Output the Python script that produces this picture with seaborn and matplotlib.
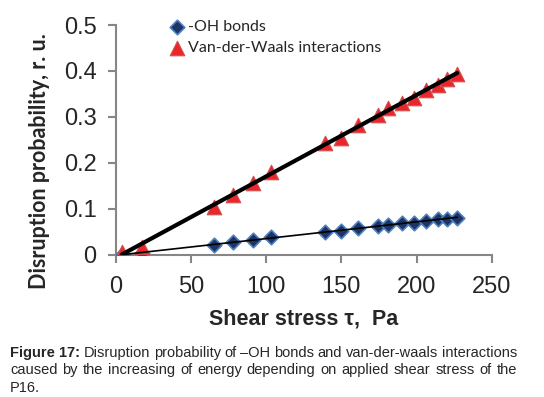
import numpy as np
import pandas as pd
import matplotlib.pyplot as plt
import seaborn as sns

# shear stress values (Pa)
stress = [4, 17.5, 65, 78, 91, 103, 139, 150, 161, 174, 181, 190, 198, 206, 214, 220, 227]
# -OH bonds disruption probability
oh_bonds = [0.0, 0.005, 0.022, 0.027, 0.033, 0.038, 0.050, 0.053, 0.058, 0.063, 0.065,
            0.069, 0.070, 0.074, 0.077, 0.079, 0.081]
# Van-der-Waals interactions disruption probability
vdw = [0.007, 0.017, 0.105, 0.130, 0.156, 0.181, 0.243, 0.254, 0.283, 0.304, 0.320,
       0.330, 0.341, 0.359, 0.370, 0.383, 0.393]

x_ticks = [0, 50, 100, 150, 200, 250]
y_ticks = [0, 0.1, 0.2, 0.3, 0.4, 0.5]
y_tick_labels = ['0', '0.1', '0.2', '0.3', '0.4', '0.5']

caption_lines = [
    [('Figure 17:', 'bold'), ('Disruption', 'normal'), ('probability', 'normal'), ('of', 'normal'),
     ('\u2013OH', 'normal'), ('bonds', 'normal'), ('and', 'normal'), ('van-der-waals', 'normal'),
     ('interactions', 'normal')],
    [(w, 'normal') for w in 'caused by the increasing of energy depending on applied shear stress of the'.split()],
    [('P16.', 'normal')],
]

df = pd.DataFrame({'stress': stress, 'oh': oh_bonds, 'vdw': vdw})

sns.set_style('white')
plt.rcParams['font.family'] = ['Liberation Sans', 'DejaVu Sans']

fig = plt.figure(figsize=(5.44, 3.97), dpi=100)
ax = fig.add_axes([0.213, 0.358, 0.691, 0.579])

sns.scatterplot(data=df, x='stress', y='oh', marker='D', s=55, color='#1c3566',
                edgecolor='#4f81bd', linewidth=1.2, label='-OH bonds', ax=ax, zorder=3)
sns.scatterplot(data=df, x='stress', y='vdw', marker='^', s=110, color='#e8262b',
                edgecolor='#d0504d', linewidth=0.8, label='Van-der-Waals interactions', ax=ax, zorder=3)

# linear trend lines
sns.regplot(data=df, x='stress', y='oh', scatter=False, ci=None, ax=ax,
            line_kws={'color': 'black', 'lw': 1.2, 'zorder': 4})
sns.regplot(data=df, x='stress', y='vdw', scatter=False, ci=None, ax=ax,
            line_kws={'color': 'black', 'lw': 3, 'zorder': 4})

ax.set_xlim(0, 250)
ax.set_ylim(0, 0.5)
ax.set_xticks(x_ticks)
ax.set_yticks(y_ticks)
ax.set_yticklabels(y_tick_labels)

for side in ['top', 'right']:
    ax.spines[side].set_visible(False)
for side in ['left', 'bottom']:
    ax.spines[side].set_color('#868686')
    ax.spines[side].set_linewidth(1.5)
ax.tick_params(axis='both', which='major', direction='out', length=6, width=1.5,
               color='#868686', labelsize=17, left=True, bottom=True)
ax.tick_params(axis='x', pad=9)
ax.tick_params(axis='y', pad=8)

ax.set_xlabel('Shear stress τ,  Pa', fontsize=15.5, fontweight='bold', labelpad=8)
ax.set_ylabel('Disruption probability, r. u.', fontsize=15.5, fontweight='bold',
              family=['Lato', 'DejaVu Sans'])
ax.yaxis.set_label_coords(-0.176, 0.409)

leg = ax.legend(loc='upper left', bbox_to_anchor=(0.12, 1.05), frameon=False,
                prop={'family': 'Lato', 'size': 11.5}, handletextpad=0.1,
                labelspacing=0.45, borderaxespad=0, handlelength=1.2)

# justified caption
renderer = fig.canvas.get_renderer()
x0, x1 = 10 / 544, 517 / 544
line_y = [1 - 353 / 397, 1 - 370 / 397, 1 - 388 / 397]
fig_w = fig.bbox.width
for words, y in zip(caption_lines, line_y):
    texts = [fig.text(0, y, w, fontsize=10.5, fontweight=wt, va='center') for w, wt in words]
    widths = [t.get_window_extent(renderer).width / fig_w for t in texts]
    if len(texts) > 1:
        gap = (x1 - x0 - sum(widths)) / (len(texts) - 1)
    else:
        gap = 0
    x = x0
    for t, w in zip(texts, widths):
        t.set_x(x)
        x += w + gap

fig.savefig('out.png', dpi=100)
